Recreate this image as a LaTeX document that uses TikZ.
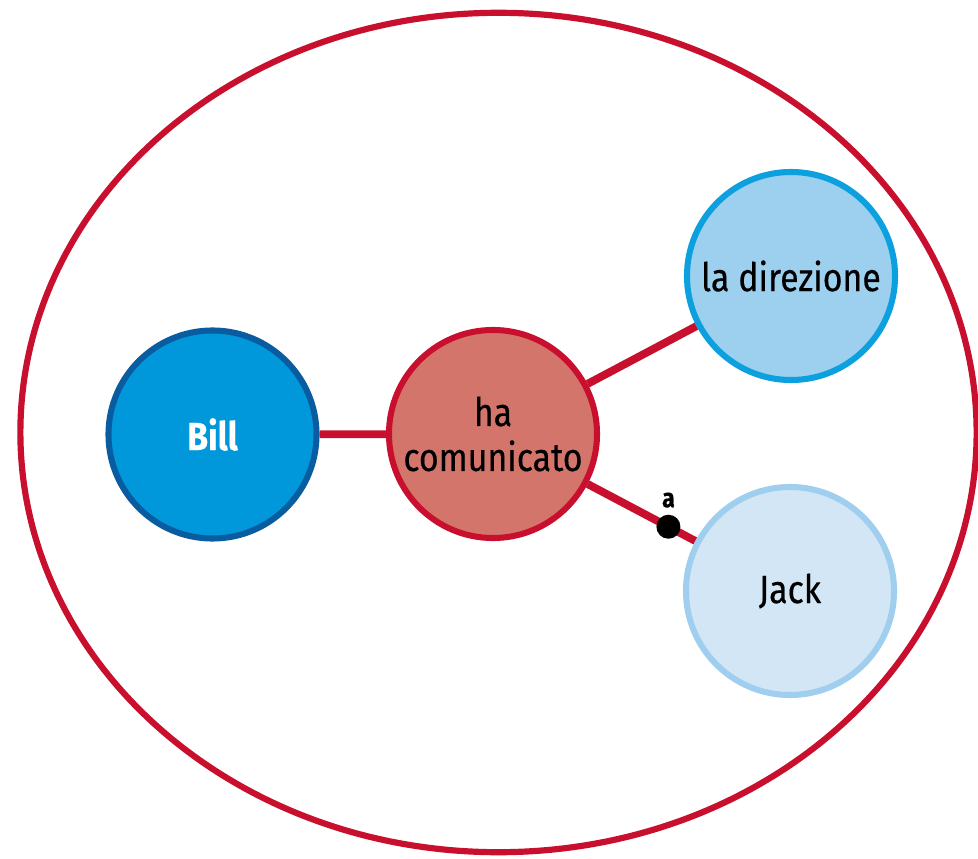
\documentclass[tikz,border=0pt]{standalone}
\usepackage{fontspec}
\setmainfont{Fira Sans}[FakeStretch=0.86, FakeBold=0.4]
\usetikzlibrary{positioning,backgrounds}
\definecolor{rossoBordo}{RGB}{200,16,46}
\definecolor{rosaFill}{RGB}{212,117,108}
\definecolor{bluFill}{RGB}{0,152,218}
\definecolor{bluBordo}{RGB}{10,92,160}
\definecolor{celesteFill}{RGB}{157,207,238}
\definecolor{celesteBordo}{RGB}{12,160,222}
\definecolor{chiaroFill}{RGB}{210,230,246}
\definecolor{chiaroBordo}{RGB}{160,206,238}
\begin{document}
\begin{tikzpicture}[x=0.025cm, y=-0.025cm, line join=round,
	nodo/.style={circle, minimum size=5.2cm, inner sep=0pt, line width=4.3pt, align=center,
		font=\fontsize{28}{32}\selectfont},
	legame/.style={draw=rossoBordo, line width=5.6pt},
	puntino/.style={circle, fill=black, minimum size=0.6cm, inner sep=0pt}]
	\useasboundingbox (0,0) rectangle (978,859);
	\draw[rossoBordo, line width=4.4pt] (498.5,432.5) ellipse [x radius=11.95cm, y radius=10.49cm];
	\node[nodo, fill=bluFill, draw=bluBordo, text=white, font=\fontsize{28}{32}\selectfont\bfseries] (bill) at (212.5,434.5) {Bill};
	\node[nodo, fill=rosaFill, draw=rossoBordo] (ha) at (493,434) {ha\\comunicato};
	\node[nodo, fill=celesteFill, draw=celesteBordo] (direzione) at (791,276) {la direzione};
	\node[nodo, fill=chiaroFill, draw=chiaroBordo] (jack) at (790,591) {Jack};
	\begin{scope}[on background layer]
		\draw[legame] (bill) -- (ha);
		\draw[legame] (ha) -- (direzione);
		\draw[legame] (ha) -- (jack) node[pos=0.75, puntino] (punto) {};
	\end{scope}
	\node[above=1pt of punto, inner sep=1pt, font=\fontsize{19}{20}\selectfont\bfseries] (a) {a};
\end{tikzpicture}
\end{document}
